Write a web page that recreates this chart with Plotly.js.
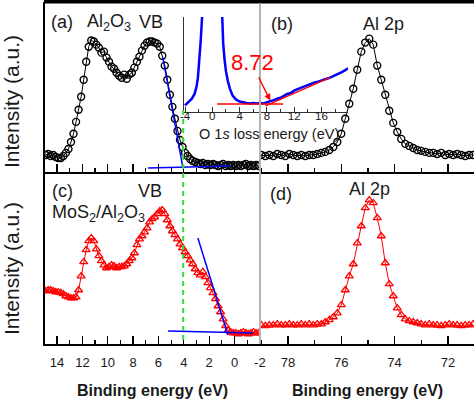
<!DOCTYPE html>
<html><head><meta charset="utf-8">
<script src="https://cdn.plot.ly/plotly-3.0.1.min.js"></script>
<style>html,body{margin:0;padding:0;background:#fff}</style>
</head><body><div id="chart" style="width:474px;height:399px"></div>
<script>
// ---- data ----
const beVB = [14.9,14.7,14.5,14.3,14.1,13.9,13.7,13.5,13.3,13.1,12.9,12.7,12.5,12.3,12.1,11.9,11.7,11.5,11.3,11.1,
  10.9,10.7,10.5,10.3,10.1,9.9,9.7,9.5,9.3,9.1,8.9,8.7,8.5,8.3,8.1,7.9,7.7,7.5,7.3,7.1,
  6.9,6.7,6.5,6.3,6.1,5.9,5.7,5.5,5.3,5.1,4.9,4.7,4.5,4.3,4.1,3.9,3.7,3.5,3.3,3.1,
  2.9,2.7,2.5,2.3,2.1,1.9,1.7,1.5,1.3,1.1,0.9,0.7,0.5,0.3,0.1,-0.1,-0.3,-0.5,-0.7,-0.9,
  -1.1,-1.3,-1.5,-1.7,-1.9];
const vbAl2O3 = [10.0,10.6,9.4,10.0,8.8,8.2,8.2,9.4,11.2,13.5,17.6,22.4,29.4,36.5,44.1,54.1,64.7,73.5,77.1,76.5,
  74.7,72.9,70.0,70.6,67.1,64.7,61.8,60.6,58.2,56.5,55.3,57.1,54.7,57.1,58.2,61.2,64.7,67.6,71.2,74.1,
  75.9,76.5,76.5,75.9,75.3,73.5,68.2,62.4,54.1,45.3,38.2,31.2,24.1,18.8,14.7,11.2,9.4,7.6,6.5,5.9,
  5.3,4.7,5.3,4.1,4.7,4.1,4.7,4.1,3.5,4.1,4.7,3.5,4.1,3.5,4.1,3.5,4.1,3.5,4.1,4.7,
  3.5,4.1,3.5,4.1,3.5];
const vbMoS2 = [30.8,31.4,31.4,30.8,30.2,30.2,29.7,29.1,27.9,27.3,26.7,26.7,27.3,31.4,39.5,47.7,54.7,59.9,61.6,59.9,
  55.2,51.2,48.3,45.9,44.2,44.8,45.9,45.3,44.2,44.8,44.8,45.3,46.5,48.3,50.0,52.9,57.6,61.0,62.8,65.1,
  67.4,70.9,72.7,73.8,75.6,77.3,77.9,75.6,72.1,68.6,65.7,63.4,61.0,58.1,55.8,53.5,51.2,48.8,46.5,43.6,
  41.3,40.1,41.9,39.0,35.5,32.6,29.7,26.2,22.1,18.6,14.5,10.5,8.1,7.0,6.4,6.4,5.8,6.4,7.0,6.4,
  5.8,6.4,7.0,6.4,6.4];
const beAl = [79.0,78.85,78.7,78.55,78.4,78.25,78.1,77.95,77.8,77.65,77.5,77.35,77.2,77.05,76.9,76.75,76.6,76.45,
  76.3,76.15,76.0,75.85,75.7,75.55,75.4,75.25,75.1,74.95,74.8,74.65,74.5,74.35,74.2,74.05,73.9,73.75,
  73.6,73.45,73.3,73.15,73.0,72.85,72.7,72.55,72.4,72.25,72.1,71.95,71.8,71.65,71.5,71.35,71.2,71.05];
const al2pAl2O3 = [10.0,9.4,10.0,9.4,10.6,10.0,9.4,10.6,10.0,9.4,10.0,9.4,10.0,10.0,10.6,11.2,11.8,12.9,
  14.7,17.6,22.4,31.2,40.0,48.8,60.0,70.6,75.9,78.2,74.7,62.4,54.1,45.3,35.9,28.8,23.5,19.4,
  16.5,15.3,14.1,12.9,12.4,11.8,11.2,11.2,10.6,11.2,10.0,10.6,10.0,10.6,10.0,9.4,10.0,10.0];
const al2pMoS2 = [11.0,10.5,11.0,11.0,11.6,11.0,11.0,11.6,11.0,11.0,11.6,11.0,11.6,11.0,11.6,11.6,12.8,14.0,
  15.7,18.0,22.7,31.4,39.5,46.5,58.7,68.6,79.1,83.7,82.0,73.3,62.8,47.1,34.9,27.9,20.9,16.9,
  14.5,13.4,12.8,12.2,11.6,11.0,11.6,11.0,11.0,10.5,11.0,11.6,11.0,11.0,10.5,11.0,11.0,11.6];
// linear fits (blue)
const fitEdgeA_x = [5.65, 4.07], fitEdgeA_y = [67.1, 2.4];
const fitBaseA_x = [6.83, 0.37], fitBaseA_y = [2.4, 3.5];
const fitEdgeC_x = [2.89, 0.52], fitEdgeC_y = [61.6, 5.2];
const fitBaseC_x = [5.25, -1.45], fitBaseC_y = [7.6, 6.4];
const vbmLine = 4.05;
// inset: O 1s loss spectrum
const lossE = [-4.0,-3.5,-3.0,-2.6,-2.3,-2.1,-1.9,-1.7,-1.5,-1.2,0,1.2,1.45,1.6,1.8,2.0,2.3,2.6,3.0,3.5,4.0,4.5,5.0,
  5.5,6.0,6.5,7.0,7.5,8.0,8.5,9.0,9.5,10.0,10.5,11.0,11.5,12.0,12.5,13.0,13.5,14.0,14.5,15.0,15.5,16.0,16.5,
  17.0,17.5,18.0,18.5,19.0,19.5,19.9];
const lossI = [7,10,14,19,27,37,52,75,100,150,300,150,97,72,55,43,32,24,17,13,11,10,9.5,
  9,9.5,9,9.5,9,10,11,12.5,14,15,17,19,20,22.5,24,25.5,27,28,29.5,31,32,33,34,
  35.5,37,38.5,40.5,42,44,46];
const bgLine_x = [0.7, 10.4], bgLine_y = [8.5, 8.5];
const onsetLine_x = [7.8, 17.3], onsetLine_y = [6.5, 36.5];
const gapValue = "8.72";
const tickVB = [14,12,10,8,6,4,2,0,-2];
const tickAl = [78,76,74,72];
const tickLoss = [-4,0,4,8,12,16];

// ---- layout helpers ----
const W = 474, H = 399;
const px = v => v / W;
const py = v => 1 - v / H;
const FONT = 'Arial, "Liberation Sans", sans-serif';
const TXT = '#1a1a1a';

function xAx(domain, range, ticks, labels, anchor) {
  return {
    domain, range, anchor,
    showline: true, linecolor: '#000', linewidth: 1.5,
    ticks: 'inside', ticklen: 8, tickwidth: 1.3, tickcolor: '#000',
    tickmode: 'array', tickvals: ticks, ticktext: ticks.map(String),
    showticklabels: labels, tickfont: {family: FONT, size: 13, color: TXT},
    ticklabelstandoff: 6,
    minor: {ticks: 'inside', ticklen: 4, tickwidth: 1.2, tickcolor: '#000', tickmode: 'linear', tick0: 0, dtick: 1, showgrid: false},
    showgrid: false, zeroline: false, fixedrange: true
  };
}
function yAx(domain, anchor, line) {
  return {
    domain, anchor, range: [0, 100],
    showline: line, linecolor: '#000', linewidth: 2.5,
    ticks: '', showticklabels: false, showgrid: false, zeroline: false, fixedrange: true
  };
}

const circ = {symbol: 'circle-open', size: 7, color: '#000', line: {width: 1.4, color: '#000'}};
const tri = {symbol: 'triangle-up-open', size: 7, color: '#ff0000', line: {width: 1.3, color: '#ff0000'}};
const blue = '#0000ff';

const traces = [
  {x: beVB, y: vbAl2O3, xaxis: 'x', yaxis: 'y', mode: 'lines+markers', marker: circ, line: {color: '#000', width: 1}},
  {x: fitEdgeA_x, y: fitEdgeA_y, xaxis: 'x', yaxis: 'y', mode: 'lines', line: {color: blue, width: 1.5}},
  {x: fitBaseA_x, y: fitBaseA_y, xaxis: 'x', yaxis: 'y', mode: 'lines', line: {color: blue, width: 1.5}},
  {x: beAl, y: al2pAl2O3, xaxis: 'x2', yaxis: 'y2', mode: 'lines+markers', marker: circ, line: {color: '#000', width: 1}},
  {x: beVB, y: vbMoS2, xaxis: 'x3', yaxis: 'y3', mode: 'lines+markers', marker: tri, line: {color: '#ff0000', width: 1}},
  {x: fitEdgeC_x, y: fitEdgeC_y, xaxis: 'x3', yaxis: 'y3', mode: 'lines', line: {color: blue, width: 1.5}},
  {x: fitBaseC_x, y: fitBaseC_y, xaxis: 'x3', yaxis: 'y3', mode: 'lines', line: {color: blue, width: 1.5}},
  {x: beAl, y: al2pMoS2, xaxis: 'x4', yaxis: 'y4', mode: 'lines+markers', marker: tri, line: {color: '#ff0000', width: 1}},
  {x: lossE, y: lossI, xaxis: 'x5', yaxis: 'y5', mode: 'lines', line: {color: blue, width: 2.5}},
  {x: bgLine_x, y: bgLine_y, xaxis: 'x5', yaxis: 'y5', mode: 'lines', line: {color: '#ff0000', width: 1.5}},
  {x: onsetLine_x, y: onsetLine_y, xaxis: 'x5', yaxis: 'y5', mode: 'lines', line: {color: '#ff0000', width: 1.5}}
];

const ann = (text, x, y, size, opts) => Object.assign({
  text, x, y, xref: 'paper', yref: 'paper', showarrow: false,
  xanchor: 'center', yanchor: 'middle', font: {family: FONT, size, color: TXT}
}, opts || {});

const layout = {
  width: W, height: H, margin: {l: 0, r: 0, t: 0, b: 0},
  paper_bgcolor: '#fff', plot_bgcolor: 'rgba(0,0,0,0)', showlegend: false,
  xaxis: xAx([px(45), px(260)], [14.95, -2.01], tickVB, false, 'y'),
  yaxis: yAx([py(172), py(1.5)], 'x', true),
  xaxis2: xAx([px(260), 1], [79.05, 71.02], tickAl, false, 'y2'),
  yaxis2: yAx([py(172), py(1.5)], 'x2', false),
  xaxis3: xAx([px(45), px(260)], [14.95, -2.01], tickVB, true, 'y3'),
  yaxis3: yAx([py(344), py(172)], 'x3', true),
  xaxis4: xAx([px(260), 1], [79.05, 71.02], tickAl, true, 'y4'),
  yaxis4: yAx([py(344), py(172)], 'x4', false),
  xaxis5: {
    domain: [px(184), px(348)], range: [-4.15, 19.9], anchor: 'y5',
    showline: true, linecolor: '#333', linewidth: 1.2,
    ticks: 'inside', ticklen: 5, tickwidth: 1, tickcolor: '#333',
    tickmode: 'array', tickvals: tickLoss, ticktext: tickLoss.map(String),
    tickfont: {family: FONT, size: 11.5, color: TXT}, ticklabelstandoff: -7,
    minor: {ticks: 'inside', ticklen: 3, tickwidth: 1, tickcolor: '#333', tickmode: 'linear', tick0: 0, dtick: 2, showgrid: false},
    showgrid: false, zeroline: false, fixedrange: true
  },
  yaxis5: {
    domain: [py(112), py(17)], range: [0, 100], anchor: 'x5',
    showline: true, linecolor: '#333', linewidth: 1.2,
    ticks: '', showticklabels: false, showgrid: false, zeroline: false, fixedrange: true
  },
  shapes: [
    {type: 'rect', xref: 'paper', yref: 'paper', x0: px(44), x1: 1, y0: py(3.5), y1: 1, fillcolor: '#000', line: {width: 0}, layer: 'above'},
    {type: 'line', xref: 'x', yref: 'paper', x0: vbmLine, x1: vbmLine, y0: py(340), y1: py(109), line: {color: '#33dd33', width: 2, dash: '5px,4px'}},
    {type: 'line', xref: 'paper', yref: 'paper', x0: px(260), x1: px(260), y0: py(344), y1: py(3.5), line: {color: '#b4b4b4', width: 2}, layer: 'above'}
  ],
  annotations: [
    ann('(a)', px(62), py(22), 18),
    ann('Al<sub>2</sub>O<sub>3</sub>', px(85), py(22), 18, {xanchor: 'left'}),
    ann('VB', px(151), py(22), 18),
    ann('(b)', px(282), py(24), 18),
    ann('Al 2p', px(383), py(24), 18),
    ann('(c)', px(62), py(191), 18),
    ann('VB', px(150), py(191), 18),
    ann('MoS<sub>2</sub>/Al<sub>2</sub>O<sub>3</sub>', px(50), py(213), 18, {xanchor: 'left'}),
    ann('(d)', px(281), py(194), 18),
    ann('Al 2p', px(369), py(189), 18),
    ann('Intensity (a.u.)', px(11), py(102), 21, {textangle: -90}),
    ann('Intensity (a.u.)', px(11), py(269), 21, {textangle: -90}),
    ann('<b>Binding energy (eV)</b>', px(152), py(390), 16),
    ann('<b>Binding energy (eV)</b>', px(367), py(390), 16),
    ann('O 1<i>s</i> loss energy (eV)', px(269), py(134), 14.5),
    {text: gapValue, x: 5.96, y: 52.6, xref: 'x5', yref: 'y5', showarrow: false, xanchor: 'center', yanchor: 'middle',
     font: {family: FONT, size: 22, color: '#ff0000'}},
    {text: '', x: 8.5, y: 12, xref: 'x5', yref: 'y5', ax: 6.7, ay: 38, axref: 'x5', ayref: 'y5',
     showarrow: true, arrowhead: 2, arrowsize: 1, arrowwidth: 1.3, arrowcolor: '#ff0000'}
  ]
};

Plotly.newPlot('chart', traces, layout, {displayModeBar: false, staticPlot: true});
</script></body></html>
